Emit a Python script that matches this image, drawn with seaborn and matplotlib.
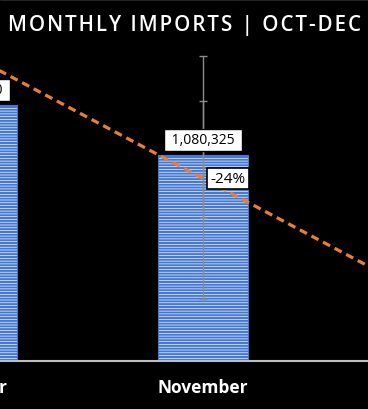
import numpy as np
import pandas as pd
import seaborn as sns
import matplotlib.pyplot as plt
from matplotlib.lines import Line2D

# chart values
months = ["October", "November", "December"]
imports = [1342500, 1080325, 820000]
trend = [1600400, 957000, 313600]
pct_labels = ["", "-24%", ""]
# error ranges drawn on november (two overlapping bars)
err_month = [1, 1]
err_low = [325100, 749900]
err_high = [1599400, 1363400]
title = "MONTHLY IMPORTS | OCT-DEC"

sns.set_theme(style="dark")
plt.rcParams['font.family'] = ['Open Sans', 'DejaVu Sans']
plt.rcParams['hatch.linewidth'] = 1.5

df = pd.DataFrame({"month": months, "imports": imports})

fig = plt.figure(figsize=(3.68, 4.10), dpi=100, facecolor="black")
ax = fig.add_axes([-144.25 / 368, 48 / 410, 694.5 / 368, 362 / 410])
ax.set_facecolor("black")

sns.barplot(data=df, x="month", y="imports", ax=ax, width=0.393,
            color="#f2f6fd", saturation=1, edgecolor="#4577d4", linewidth=0.8)
for p in ax.patches:
    p.set_hatch("------")

# error bars
for m, lo, hi in zip(err_month, err_low, err_high):
    mid = (lo + hi) / 2
    ax.errorbar(m, mid, yerr=(hi - lo) / 2, fmt="none", ecolor="#8c8c8c",
                elinewidth=1, capsize=2.6, capthick=1, zorder=3)

# dashed trend line
sns.lineplot(x=[0, 1, 2], y=trend, ax=ax, color="#ed7d31", linewidth=2.3,
             dashes=False, zorder=4)
ax.lines[-1].set_dashes((2.5, 1.6))

# value labels
for i, v in enumerate(imports):
    ax.annotate(" " + f"{v:,}" + " ", xy=(i, v), xytext=(0, 11), textcoords="offset points",
                ha="center", va="center", fontsize=10, color="black", zorder=5,
                bbox=dict(boxstyle="square,pad=0.25", fc="white", ec="black", lw=1))
for i, t in enumerate(pct_labels):
    if t:
        ax.annotate(t, xy=(i, trend[i]), xytext=(18, 0), textcoords="offset points",
                    ha="center", va="center", fontsize=11, color="black", zorder=5,
                    bbox=dict(boxstyle="square,pad=0.2", fc="white", ec="black", lw=1.2))

ax.set_xlim(-0.5, 2.5)
ax.set_ylim(0, 1898000)
ax.set_xlabel("")
ax.set_ylabel("")
ax.set_yticks([])
ax.grid(False)
for s in ["top", "left", "right"]:
    ax.spines[s].set_visible(False)
ax.spines["bottom"].set_color("#bfbfbf")
ax.spines["bottom"].set_linewidth(1.5)
ax.tick_params(axis="x", length=0, pad=12, labelsize=12.5, labelcolor="white")
for lbl in ax.get_xticklabels():
    lbl.set_fontweight("bold")

# letter-spaced title (hair spaces inside each word, wider word gaps)
spaced = "\u200a \u200a".join("\u200a".join(w) for w in title.split(" "))
fig.text(0.5, 1 - 25.5 / 410, spaced, ha="center", va="center",
         color="white", fontsize=14.8, fontweight="semibold")
fig.add_artist(Line2D([0, 1], [0.999, 0.999], color="#bfbfbf", lw=1))

plt.savefig("out.png", dpi=100, facecolor="black")
